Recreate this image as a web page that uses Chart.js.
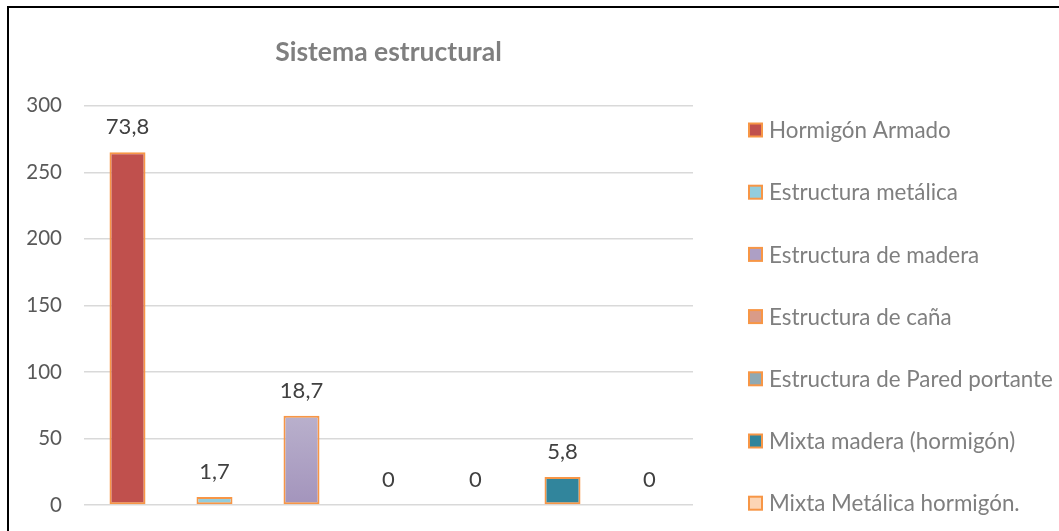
<!DOCTYPE html>
<html>
<head>
<meta charset="utf-8">
<script src="https://cdn.jsdelivr.net/npm/chart.js@4.4.1/dist/chart.umd.min.js"></script>
<style>
  html, body { margin: 0; padding: 0; background: #fff; }
  #wrap { position: relative; width: 1059px; height: 531px; overflow: hidden; }
  #frame { position: absolute; left: 7px; top: 6px; width: 1100px; height: 600px;
           border-left: 2px solid #000; border-top: 2px solid #000; pointer-events: none; }
  canvas { position: absolute; left: 0; top: 0; }
</style>
</head>
<body>
<div id="wrap">
  <canvas id="c" width="1059" height="531"></canvas>
  <div id="frame"></div>
</div>
<script>
// Structural system types and number of buildings of each
const categories = [
  'Hormigón Armado',
  'Estructura metálica',
  'Estructura de madera',
  'Estructura de caña',
  'Estructura de Pared portante',
  'Mixta madera (hormigón)',
  'Mixta Metálica hormigón.'
];
const counts = [265, 6, 67, 0, 0, 21, 0];
const fillColors = ['#c0504d', '#93cddd', '#ad9fc5', '#d99b88', '#8fa9b3', '#31859c', '#fcd5b5'];
const edgeColor = '#f79646';
const yTicks = [0, 50, 100, 150, 200, 250, 300];
const chartTitle = 'Sistema estructural';

const total = counts.reduce((a, b) => a + b, 0);
const pctLabel = v => v === 0 ? '0' : (v / total * 100).toFixed(1).replace('.', ',');

const FONT = 'Lato';

// one dataset per system, each holding a value only at its own slot
const datasets = categories.map((name, i) => ({
  label: name,
  data: counts.map((v, j) => (j === i ? v : null)),
  backgroundColor: (ctx) => {
    if (i !== 2 || !ctx.chart.chartArea || ctx.parsed == null) return fillColors[i];
    const ys = ctx.chart.scales.y;
    const top = ys.getPixelForValue(ctx.parsed.y);
    const bottom = ys.getPixelForValue(0);
    if (!(bottom > top)) return fillColors[i];
    const g = ctx.chart.ctx.createLinearGradient(0, top, 0, bottom);
    g.addColorStop(0, '#b9b0cc');
    g.addColorStop(1, '#a394bc');
    return g;
  },
  legendColor: fillColors[i],
  borderColor: edgeColor,
  borderWidth: 2,
  borderSkipped: false,
  skipNull: true,
  categoryPercentage: 1,
  barPercentage: 0.414
}));

// percentage labels above each bar
const valueLabels = {
  id: 'valueLabels',
  afterDatasetsDraw(chart) {
    const ctx = chart.ctx;
    ctx.save();
    ctx.font = `22px ${FONT}`;
    ctx.fillStyle = '#404040';
    ctx.textAlign = 'center';
    ctx.textBaseline = 'middle';
    chart.data.datasets.forEach((ds, i) => {
      const meta = chart.getDatasetMeta(i);
      const bar = meta.data[i];
      if (!bar) return;
      ctx.fillText(pctLabel(counts[i]), bar.x, bar.y - 25);
    });
    ctx.restore();
  }
};

// legend column on the right
const sideLegend = {
  id: 'sideLegend',
  afterDraw(chart) {
    const ctx = chart.ctx;
    const x0 = 749, y0 = 130, step = 62.2, box = 13;
    ctx.save();
    ctx.font = `22.4px ${FONT}`;
    ctx.textBaseline = 'middle';
    ctx.textAlign = 'left';
    chart.data.datasets.forEach((ds, i) => {
      const y = y0 + i * step;
      ctx.fillStyle = ds.legendColor;
      ctx.fillRect(x0, y - box / 2, box, box);
      ctx.strokeStyle = edgeColor;
      ctx.lineWidth = 2;
      ctx.strokeRect(x0, y - box / 2, box, box);
      ctx.fillStyle = '#7f7f7f';
      ctx.fillText(ds.label, x0 + 20, y + 1);
    });
    ctx.restore();
  }
};

new Chart(document.getElementById('c'), {
  type: 'bar',
  data: { labels: categories, datasets },
  options: {
    responsive: false,
    animation: false,
    layout: { padding: { left: 0, right: 366, top: 36, bottom: 26 } },
    plugins: {
      legend: { display: false },
      tooltip: { enabled: false },
      title: {
        display: true,
        text: chartTitle,
        fullSize: false,
        color: '#7f7f7f',
        font: { family: FONT, size: 26.5, weight: 'bold' },
        padding: { top: 1, bottom: 37 }
      }
    },
    scales: {
      x: {
        display: false,
        grid: { display: false }
      },
      y: {
        min: 0,
        max: 300,
        afterFit: (s) => { s.width = 84; },
        afterBuildTicks: (s) => { s.ticks = yTicks.map(v => ({ value: v })); },
        border: { display: false },
        grid: {
          color: '#d9d9d9',
          lineWidth: 1.5,
          drawTicks: true,
          tickLength: 22,
          tickColor: 'transparent'
        },
        ticks: {
          padding: 0,
          color: '#595959',
          font: { family: FONT, size: 20.5 }
        }
      }
    }
  },
  plugins: [valueLabels, sideLegend]
});
</script>
</body>
</html>
